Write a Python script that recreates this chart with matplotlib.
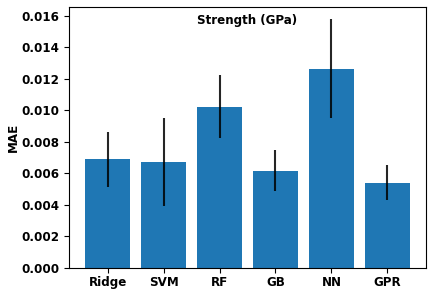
import matplotlib
matplotlib.use('Agg')
from matplotlib import pyplot as plt

models = ['Ridge', 'SVM', 'RF', 'GB', 'NN', 'GPR']
mae = [0.00688, 0.00669, 0.01024, 0.00618, 0.01265, 0.00542]
mae_std = [0.00173, 0.00279, 0.00198, 0.00132, 0.00313, 0.00108]
yticks = [0.000, 0.002, 0.004, 0.006, 0.008, 0.010, 0.012, 0.014, 0.016]

fs = 8.6
fig = plt.figure(figsize=(4.33, 2.95), dpi=100)
ax = fig.add_axes([69 / 433, 1 - 268 / 295, (426 - 69) / 433, (268 - 7) / 295])

# bars with std as error bars
ax.bar(models, mae, width=0.8, color='#1f77b4',
       yerr=mae_std, error_kw=dict(ecolor='black', elinewidth=1.5, alpha=0.85))

ax.set_ylim(0, 0.01655)
ax.set_yticks(yticks)
ax.set_yticklabels(['%.3f' % t for t in yticks], fontsize=fs, fontweight='bold')
ax.set_xticks(range(len(models)))
ax.set_xticklabels(models, fontsize=fs, fontweight='bold')
ax.tick_params(axis='x', pad=2.5)
ax.set_ylabel('MAE', fontsize=fs, fontweight='bold', labelpad=1)
ax.text(0.5, 0.948, 'Strength (GPa)', transform=ax.transAxes, ha='center', va='center',
        fontsize=fs, fontweight='bold')

fig.savefig('out.png', dpi=100)
